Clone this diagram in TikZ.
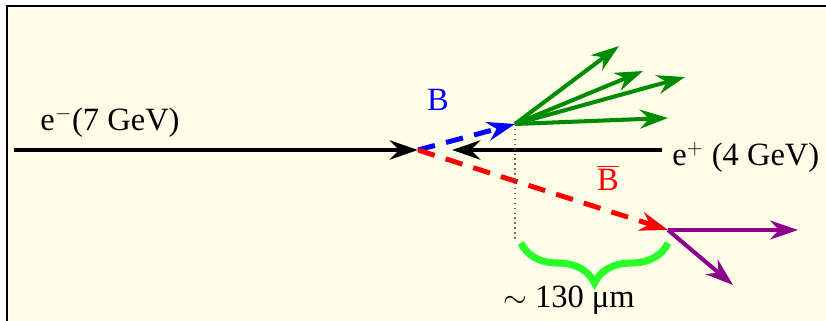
\documentclass[tikz,border=0pt]{standalone}
\usepackage{fontspec}
\setmainfont{Liberation Serif}
\usetikzlibrary{arrows.meta,decorations.pathreplacing}
\definecolor{bgcream}{RGB}{255,253,232}
\definecolor{trkgreen}{RGB}{0,140,0}
\definecolor{brcgreen}{RGB}{40,255,40}
\definecolor{dauviolet}{RGB}{140,0,140}

\begin{document}
\begin{tikzpicture}[font=\fontsize{18.5}{21}\selectfont,
  >={Stealth[length=5.6mm, width=3.8mm, inset=1.8mm]},
  beam/.style={line width=2.8pt, ->},
  meson/.style={line width=2.8pt, dash pattern=on 3.5mm off 2.3mm, ->},
  trk/.style={line width=2.3pt, draw=trkgreen, ->},
  dau/.style={line width=2.3pt, draw=dauviolet, ->}]
  \useasboundingbox (0,0) rectangle (16.52,6.42);
  \fill[bgcream] (0.14,0) rectangle (16.52,6.30);
  \draw[line width=1.2pt] (0.14,0) -- (0.14,6.30) -- (16.52,6.30);
  % beams and vertices
  \coordinate (ip) at (8.36,3.42);
  \coordinate (eminus) at (0.28,3.42);
  \coordinate (eplus) at (13.24,3.42);
  \coordinate (eptip) at (9.04,3.42);
  \coordinate (bvtx) at (10.30,3.94);
  \coordinate (bbvtx) at (13.36,1.82);
  \coordinate (t1) at (12.38,5.50);
  \coordinate (t2) at (12.86,5.00);
  \coordinate (t3) at (13.70,4.88);
  \coordinate (t4) at (13.36,4.06);
  \coordinate (d1) at (15.96,1.82);
  \coordinate (d2) at (14.66,0.72);
  \coordinate (dotend) at (10.30,1.62);
  \draw[beam] (eminus) -- (ip);
  \draw[beam] (eplus) -- (eptip);
  \draw[meson, blue] (ip) -- (bvtx);
  \draw[meson, red] (ip) -- (bbvtx);
  \draw[trk] (bvtx) -- (t1);
  \draw[trk] (bvtx) -- (t2);
  \draw[trk] (bvtx) -- (t3);
  \draw[trk] (bvtx) -- (t4);
  \draw[dau] (bbvtx) -- (d1);
  \draw[dau] (bbvtx) -- (d2);
  \draw[black!60, dotted, thick] (bvtx) -- (dotend);
  \draw[brcgreen, line width=4pt, decorate, decoration={brace, amplitude=8mm}]
    (13.36,1.56) -- (10.42,1.56);
  % labels
  \node (em) at (2.2,3.98) {e$^-$(7 GeV)};
  \node[anchor=west, inner sep=0pt] (ep) at (13.44,3.28) {e$^+$ (4 GeV)};
  \node[text=blue] (blab) at (8.76,4.42) {B};
  \node[text=red] (bblab) at (12.16,2.86) {$\overline{\hbox{B}}$};
  \node (dist) at (11.38,0.42) {$\sim$ 130 μm};
\end{tikzpicture}
\end{document}
